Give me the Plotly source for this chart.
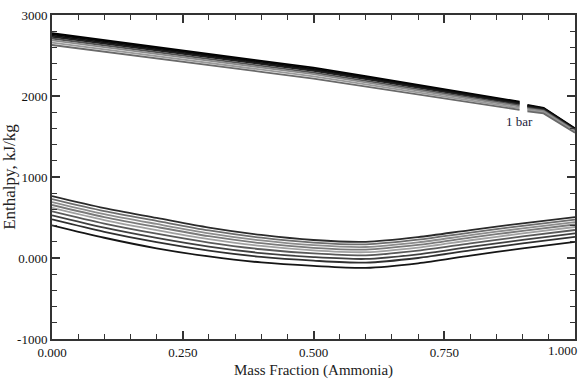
import plotly.graph_objects as go

# Mass fraction grid for liquid (saturated) curves
x_liq = [0.0, 0.1, 0.2, 0.3, 0.4, 0.5, 0.6, 0.7, 0.8, 0.9, 1.0]

# Liquid enthalpy curves, kJ/kg (top to bottom)
liq_1 = [763, 615, 495, 376, 285, 222, 200, 258, 345, 428, 505]
liq_2 = [727, 579, 458, 340, 251, 190, 168, 226, 314, 397, 475]
liq_3 = [691, 542, 420, 305, 217, 158, 136, 193, 282, 366, 444]
liq_4 = [655, 506, 383, 269, 183, 126, 104, 161, 251, 335, 414]
liq_5 = [619, 469, 345, 234, 149, 94, 72, 129, 219, 304, 383]
liq_6 = [576, 425, 300, 191, 108, 56, 33, 90, 181, 267, 346]
liq_7 = [526, 374, 248, 141, 61, 11, -12, 45, 137, 223, 304]
liq_8 = [476, 323, 195, 91, 13, -33, -57, 0, 93, 180, 261]
liq_9 = [404, 250, 120, 20, -55, -97, -121, -65, 30, 118, 200]

# Mass fraction grid for vapour curves (gap near x = 0.9)
x_vap = [0.0, 0.1, 0.2, 0.3, 0.4, 0.5, 0.6, 0.7, 0.8, 0.894, None, 0.909, 0.94, 1.0]

# Vapour enthalpy curves, kJ/kg (top to bottom)
vap_1 = [2775, 2690, 2605, 2518, 2435, 2350, 2245, 2140, 2035, 1930, None, 1890, 1855, 1600]
vap_2 = [2760, 2676, 2591, 2504, 2421, 2336, 2232, 2128, 2024, 1920, None, 1882, 1848, 1595]
vap_3 = [2746, 2661, 2576, 2490, 2408, 2323, 2220, 2116, 2012, 1910, None, 1874, 1841, 1589]
vap_4 = [2731, 2646, 2562, 2477, 2394, 2310, 2207, 2104, 2001, 1900, None, 1866, 1834, 1584]
vap_5 = [2710, 2625, 2541, 2456, 2373, 2289, 2188, 2086, 1984, 1885, None, 1854, 1824, 1575]
vap_6 = [2688, 2603, 2519, 2435, 2353, 2269, 2169, 2068, 1967, 1870, None, 1842, 1813, 1567]
vap_7 = [2659, 2574, 2491, 2408, 2325, 2242, 2143, 2044, 1945, 1850, None, 1826, 1799, 1556]
vap_8 = [2630, 2545, 2462, 2380, 2298, 2215, 2118, 2020, 1922, 1830, None, 1810, 1785, 1545]

y_tickvals = [-1000, 0, 1000, 2000, 3000]
y_ticktext = ["-1000", "0.000", "1000", "2000", "3000"]
x_tickvals = [0.0, 0.25, 0.5, 0.75, 1.0]
x_ticktext = ["0.000", "0.250", "0.500", "0.750", ""]
x_last_label = "1.000"

liq_series = [liq_1, liq_2, liq_3, liq_4, liq_5, liq_6, liq_7, liq_8, liq_9]
liq_colors = ["#2a2a2a", "#6e6e6e", "#8c8c8c", "#7a7a7a", "#a0a0a0",
              "#5a5a5a", "#404040", "#303030", "#151515"]
vap_series = [vap_1, vap_2, vap_3, vap_4, vap_5, vap_6, vap_7, vap_8]
vap_colors = ["#000000", "#050505", "#101010", "#1e1e1e",
              "#505050", "#8a8a8a", "#9a9a9a", "#6a6a6a"]

SERIF = "Liberation Serif, Times New Roman, DejaVu Serif, serif"

fig = go.Figure()
for ys, c in zip(liq_series, liq_colors):
    fig.add_trace(go.Scatter(x=x_liq, y=ys, mode="lines",
                             line=dict(color=c, width=1.8, shape="spline",
                                       smoothing=0.8),
                             showlegend=False, hoverinfo="skip"))
for ys, c in zip(vap_series, vap_colors):
    fig.add_trace(go.Scatter(x=x_vap, y=ys, mode="lines", connectgaps=False,
                             line=dict(color=c, width=1.8), showlegend=False,
                             hoverinfo="skip"))

fig.add_annotation(x=0.893, y=1690, text="1 bar", showarrow=False,
                   font=dict(family=SERIF, size=13, color="#1c1c3c"))
fig.add_annotation(x=1.0, y=0, xref="paper", yref="paper", text=x_last_label,
                   showarrow=False, xanchor="right", yanchor="top",
                   xshift=4, yshift=-2,
                   font=dict(family=SERIF, size=13, color="#111111"))

axis_common = dict(
    showgrid=False, zeroline=False, showline=True, linecolor="#333333",
    linewidth=2, mirror="ticks", ticks="inside", tickcolor="#333333",
    tickwidth=1.5, ticklen=8, automargin=False,
    tickfont=dict(family=SERIF, size=13, color="#111111"),
)

fig.update_xaxes(
    range=[0, 1], tickvals=x_tickvals, ticktext=x_ticktext,
    minor=dict(dtick=0.05, ticks="inside", ticklen=5, tickcolor="#333333",
               tickwidth=1.2),
    title=dict(text="Mass Fraction (Ammonia)", standoff=6,
               font=dict(family=SERIF, size=15, color="#222222")),
    **axis_common,
)
fig.update_yaxes(
    range=[-1000, 3000], tickvals=y_tickvals, ticktext=y_ticktext,
    minor=dict(dtick=200, ticks="inside", ticklen=5, tickcolor="#333333",
               tickwidth=1.2),
    title=dict(text="Enthalpy, kJ/kg", standoff=2,
               font=dict(family=SERIF, size=17, color="#222222")),
    **axis_common,
)

fig.update_layout(
    width=580, height=385,
    margin=dict(l=52, r=5, t=15, b=46),
    paper_bgcolor="white", plot_bgcolor="white",
    font=dict(family=SERIF),
)

fig.write_html("out.html")
